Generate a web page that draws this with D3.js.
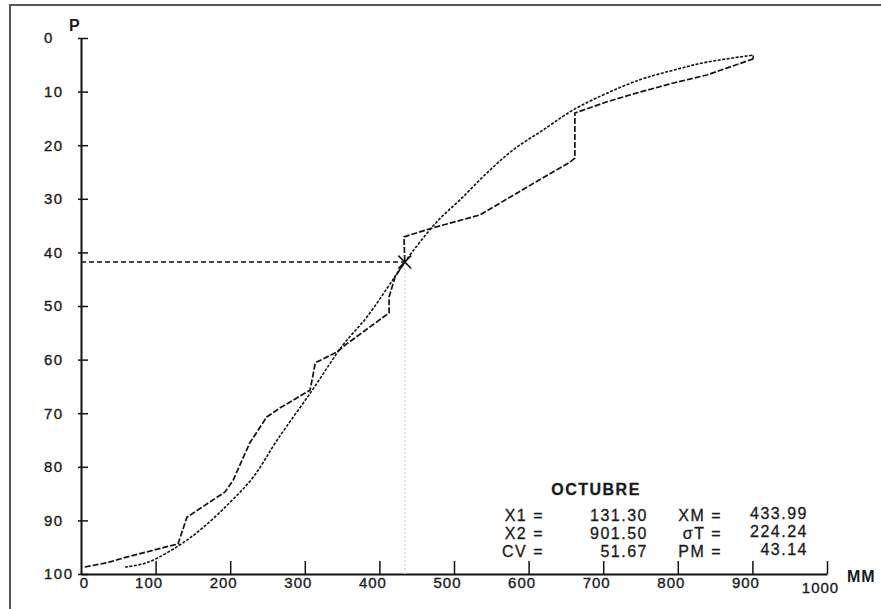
<!DOCTYPE html>
<html>
<head>
<meta charset="utf-8">
<script src="https://cdn.jsdelivr.net/npm/d3@7"></script>
<style>
  body { margin: 0; background: #fff; }
  text { font-family: "Liberation Sans", Arial, sans-serif; fill: #1a1a1a; }
</style>
</head>
<body>
<svg id="chart" width="881" height="609"></svg>
<script>
const width = 881;
const height = 609;

// observed (empirical) curve: mm, probability
const obsMM = [5, 35, 62, 88, 115, 130, 142, 193, 204, 226, 249, 267, 307, 311, 314, 343, 354, 405, 413, 413, 421, 434, 433, 472, 535, 597, 656, 662, 662, 662, 705, 749, 794, 839, 901];
const obsP  = [98.7, 97.9, 96.8, 95.9, 94.9, 94.4, 89.4, 84.7, 82.5, 75.6, 70.7, 69.0, 65.7, 62.9, 60.6, 58.6, 57.3, 52.1, 51.3, 48.3, 44.6, 41.8, 37.1, 35.4, 33.0, 27.9, 23.1, 22.4, 15.9, 14.0, 11.9, 10.1, 8.4, 6.9, 3.9];

// theoretical (fitted) curve
const theoMM = [59, 88, 130, 163, 200, 231, 263, 310, 351, 383, 418, 434, 477, 508, 544, 579, 619, 660, 705, 749, 794, 839, 901];
const theoP  = [98.7, 97.9, 94.8, 91.4, 86.6, 81.9, 75.0, 65.7, 57.3, 52.1, 45.1, 41.8, 34.3, 30.2, 25.2, 20.9, 17.2, 13.4, 10.3, 7.8, 6.0, 4.5, 3.2];

// mean marker
const markMM = 434;
const markP = 41.8;

const xTicks = [0, 100, 200, 300, 400, 500, 600, 700, 800, 900, 1000];
const yTicks = [0, 10, 20, 30, 40, 50, 60, 70, 80, 90, 100];

const statTitle = "OCTUBRE";
const statLabelsL = ["X1 =", "X2 =", "CV ="];
const statValuesL = ["131.30", "901.50", "51.67"];
const statLabelsR = ["XM =", "σT =", "PM ="];
const statValuesR = ["433.99", "224.24", "43.14"];

const svg = d3.select("#chart");

// frame (only top and left edges fall inside the picture)
svg.append("rect")
    .attr("x", 10).attr("y", 5)
    .attr("width", 900).attr("height", 700)
    .attr("fill", "none")
    .attr("stroke", "#555")
    .attr("stroke-width", 2);

const x = d3.scaleLinear().domain([0, 1000]).range([81, 827]);
const y = d3.scaleLinear().domain([0, 100]).range([38, 574]);

//------------ Axes ------------------------------------------------------------//
const xAxis = svg.append("g")
    .attr("transform", `translate(0, ${y(100)})`)
    .call(d3.axisBottom(x).tickValues(xTicks).tickFormat(d3.format("d"))
        .tickSize(-13).tickSizeOuter(0).tickPadding(0));
xAxis.select(".domain").attr("stroke", "#111").attr("stroke-width", 2);
xAxis.selectAll(".tick line").attr("stroke", "#111").attr("stroke-width", 1.5);
xAxis.selectAll(".tick").filter(d => d === 0).select("line").remove();
xAxis.selectAll(".tick text")
    .attr("font-size", 15)
    .attr("fill", "#1a1a1a")
    .attr("stroke", "#1a1a1a")
    .attr("stroke-width", 0.35)
    .attr("dx", d => d === 0 ? 3 : -7)
    .attr("y", d => d === 1000 ? 8 : 3)
    .attr("dy", "0.71em")
    .style("letter-spacing", "1px");

const yAxis = svg.append("g")
    .attr("transform", `translate(${x(0)}, 0)`)
    .call(d3.axisRight(y).tickValues(yTicks).tickSize(7).tickSizeOuter(0));
yAxis.select(".domain").attr("stroke", "#111").attr("stroke-width", 2);
yAxis.selectAll(".tick line").attr("stroke", "#111").attr("stroke-width", 1.5).attr("x1", -3);
yAxis.selectAll(".tick text")
    .attr("font-size", 15)
    .attr("fill", "#1a1a1a")
    .attr("stroke", "#1a1a1a")
    .attr("stroke-width", 0.35)
    .attr("x", 44 - x(0))
    .attr("text-anchor", "start")
    .style("letter-spacing", "1.5px");

svg.append("text")
    .attr("x", 69).attr("y", 31)
    .attr("font-size", 16)
    .attr("font-weight", "bold")
    .text("P");

svg.append("text")
    .attr("x", 847).attr("y", 582)
    .attr("font-size", 16)
    .attr("font-weight", "bold")
    .style("letter-spacing", "1px")
    .text("MM");

//------------ Reference lines --------------------------------------------------//
svg.append("line")
    .attr("x1", x(markMM)).attr("x2", x(markMM))
    .attr("y1", y(markP) + 6).attr("y2", y(100))
    .attr("stroke", "#d8d8d8")
    .attr("stroke-width", 1.5)
    .attr("stroke-dasharray", "2,2");

svg.append("line")
    .attr("x1", x(0)).attr("x2", x(markMM))
    .attr("y1", y(markP)).attr("y2", y(markP))
    .attr("stroke", "#111")
    .attr("stroke-width", 1.4)
    .attr("stroke-dasharray", "5,3");

//------------ Curves -----------------------------------------------------------//
const obsData = obsMM.map((m, i) => [m, obsP[i]]);
const theoData = theoMM.map((m, i) => [m, theoP[i]]);

svg.append("path")
    .datum(theoData)
    .attr("d", d3.line().x(d => x(d[0])).y(d => y(d[1])).curve(d3.curveCatmullRom))
    .attr("fill", "none")
    .attr("stroke", "#111")
    .attr("stroke-width", 1.6)
    .attr("stroke-dasharray", "3,1.5");

svg.append("path")
    .datum(obsData)
    .attr("d", d3.line().x(d => x(d[0])).y(d => y(d[1])))
    .attr("fill", "none")
    .attr("stroke", "#111")
    .attr("stroke-width", 1.7)
    .attr("stroke-dasharray", "6,2");

svg.append("line")
    .attr("x1", x(theoMM[theoMM.length - 1])).attr("x2", x(obsMM[obsMM.length - 1]))
    .attr("y1", y(theoP[theoP.length - 1])).attr("y2", y(obsP[obsP.length - 1]))
    .attr("stroke", "#111").attr("stroke-width", 1.5);

svg.append("path")
    .attr("transform", `translate(${x(markMM)}, ${y(markP)})`)
    .attr("d", d3.symbol(d3.symbolTimes, 110)())
    .attr("fill", "none")
    .attr("stroke", "#111")
    .attr("stroke-width", 1.5);

//------------ Stats box --------------------------------------------------------//
const stats = svg.append("g")
    .attr("font-size", 16)
    .attr("stroke", "#1a1a1a")
    .attr("stroke-width", 0.3)
    .style("letter-spacing", "1.5px");

stats.append("text")
    .attr("x", 596).attr("y", 495)
    .attr("text-anchor", "middle")
    .attr("font-weight", "bold")
    .text(statTitle);

const rowY = [521, 539, 557];

statLabelsL.forEach((t, i) => {
    stats.append("text").attr("x", 544).attr("y", rowY[i]).attr("text-anchor", "end").text(t);
    stats.append("text").attr("x", 648).attr("y", rowY[i]).attr("text-anchor", "end").text(statValuesL[i]);
    stats.append("text").attr("x", 722).attr("y", rowY[i]).attr("text-anchor", "end").text(statLabelsR[i]);
    stats.append("text").attr("x", 808).attr("y", rowY[i] - 2).attr("text-anchor", "end").text(statValuesR[i]);
});
</script>
</body>
</html>
